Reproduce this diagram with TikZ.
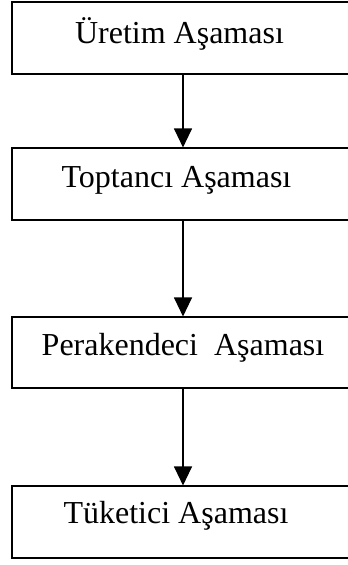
\documentclass[tikz,border=0pt]{standalone}
\usepackage{fontspec}
\setmainfont{Liberation Serif}
\usetikzlibrary{arrows.meta}
\begin{document}
\begin{tikzpicture}[x=1pt,y=-1pt,
  box/.style={draw=black,line width=1.1pt,rectangle,inner sep=0pt,minimum width=342pt,minimum height=72pt},
  lbl/.style={inner sep=0pt,anchor=base,font=\fontsize{32}{38}\selectfont},
  arr/.style={draw=black,line width=1.1pt,-{Triangle[width=18pt,length=19pt]}}]
\useasboundingbox (0,0) rectangle (348,565);
\node[box] (b1) at (183,38) {};
\node[box] (b2) at (183,184) {};
\node[box,minimum height=71pt] (b3) at (183,352.5) {};
\node[box] (b4) at (183,522) {};
\node[lbl] (t1) at (179.5,43) {Üretim Aşaması};
\node[lbl] (t2) at (176.5,187) {Toptancı Aşaması};
\node[lbl] (t3) at (183,355) {Perakendeci\ \ Aşaması};
\node[lbl] (t4) at (176,523) {Tüketici Aşaması};
\draw[arr] (b1.south) -- (b2.north);
\draw[arr] (b2.south) -- (b3.north);
\draw[arr] (b3.south) -- (b4.north);
\end{tikzpicture}
\end{document}
